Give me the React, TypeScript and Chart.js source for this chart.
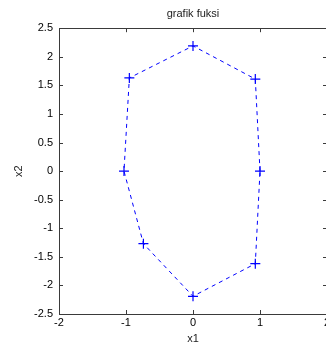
import React, { useEffect, useRef } from "react";
import { Chart, registerables } from "chart.js";

Chart.register(...registerables);

const chartTitle = "grafik fuksi";
const xLabel = "x1";
const yLabel = "x2";
const xValues = [1.0, 0.93, 0.0, -0.95, -1.03, -0.74, 0.0, 0.93, 1.0];
const yValues = [0.0, 1.61, 2.19, 1.63, 0.0, -1.27, -2.19, -1.62, 0.0];
const xMin = -2, xMax = 2, xStep = 1;
const yMin = -2.5, yMax = 2.5, yStep = 0.5;

const AXIS_COLOR = "#3a3a3a";
const LINE_COLOR = "#0000ff";
const FONT = "'Liberation Sans', Arial, sans-serif";

const boxTicks = {
  id: "boxTicks",
  afterDatasetsDraw(chart: any) {
    const { ctx, chartArea } = chart;
    const { left, right, top, bottom } = chartArea;
    const xs = chart.scales.x;
    const ys = chart.scales.y;
    const len = 4;
    ctx.save();
    ctx.strokeStyle = AXIS_COLOR;
    ctx.lineWidth = 1;
    ctx.beginPath();
    ctx.rect(Math.round(left) + 0.5, Math.round(top) + 0.5, Math.round(right - left), Math.round(bottom - top));
    xs.ticks.forEach((t: any) => {
      const px = Math.round(xs.getPixelForValue(t.value)) + 0.5;
      ctx.moveTo(px, bottom);
      ctx.lineTo(px, bottom - len);
      ctx.moveTo(px, top);
      ctx.lineTo(px, top + len);
    });
    ys.ticks.forEach((t: any) => {
      const py = Math.round(ys.getPixelForValue(t.value)) + 0.5;
      ctx.moveTo(left, py);
      ctx.lineTo(left + len, py);
      ctx.moveTo(right, py);
      ctx.lineTo(right - len, py);
    });
    ctx.stroke();
    ctx.restore();
  },
};

export default function App() {
  const ref = useRef<HTMLCanvasElement | null>(null);
  useEffect(() => {
    if (!ref.current) return;
    const points = xValues.map((x, i) => ({ x, y: yValues[i] }));
    const radii = xValues.map((_, i) => (i === xValues.length - 1 ? 0 : 5));
    const chart = new Chart(ref.current, {
      type: "scatter",
      data: {
        datasets: [
          {
            data: points,
            showLine: true,
            borderColor: LINE_COLOR,
            borderWidth: 1,
            borderDash: [4, 4],
            pointStyle: "cross",
            pointRadius: radii,
            pointBorderColor: LINE_COLOR,
            pointBorderWidth: 1.2,
            pointBackgroundColor: LINE_COLOR,
            tension: 0,
          },
        ],
      },
      options: {
        animation: false,
        responsive: false,
        layout: { padding: { left: 0, right: 13, top: 0, bottom: 0 } },
        plugins: {
          legend: { display: false },
          tooltip: { enabled: false },
          title: {
            display: true,
            text: chartTitle,
            fullSize: false,
            color: "#222",
            font: { family: FONT, size: 11, weight: "normal" },
            padding: { top: 7, bottom: 8 },
          },
        },
        scales: {
          x: {
            type: "linear",
            min: xMin,
            max: xMax,
            afterFit: (s: any) => { s.height = 36; },
            ticks: { stepSize: xStep, color: "#000", padding: 2, font: { family: FONT, size: 11 }, callback: (v: any) => String(v) },
            grid: { drawOnChartArea: false, drawTicks: false },
            border: { display: false },
            title: { display: true, text: xLabel, color: "#222", font: { family: FONT, size: 11 }, padding: { top: 0, bottom: 4 } },
          },
          y: {
            type: "linear",
            min: yMin,
            max: yMax,
            afterFit: (s: any) => { s.width = 59; },
            ticks: { stepSize: yStep, color: "#000", padding: 6, font: { family: FONT, size: 11 }, callback: (v: any) => String(v) },
            grid: { drawOnChartArea: false, drawTicks: false },
            border: { display: false },
            title: { display: true, text: yLabel, color: "#222", font: { family: FONT, size: 11 }, padding: { top: 12, bottom: 0 } },
          },
        },
      },
      plugins: [boxTicks],
    });
    return () => chart.destroy();
  }, []);
  return (
    <div style={{ position: "fixed", left: 0, top: 0, width: 326, height: 350, overflow: "hidden", background: "#fff" }}>
      <canvas ref={ref} width={340} height={350} style={{ display: "block" }} />
    </div>
  );
}
